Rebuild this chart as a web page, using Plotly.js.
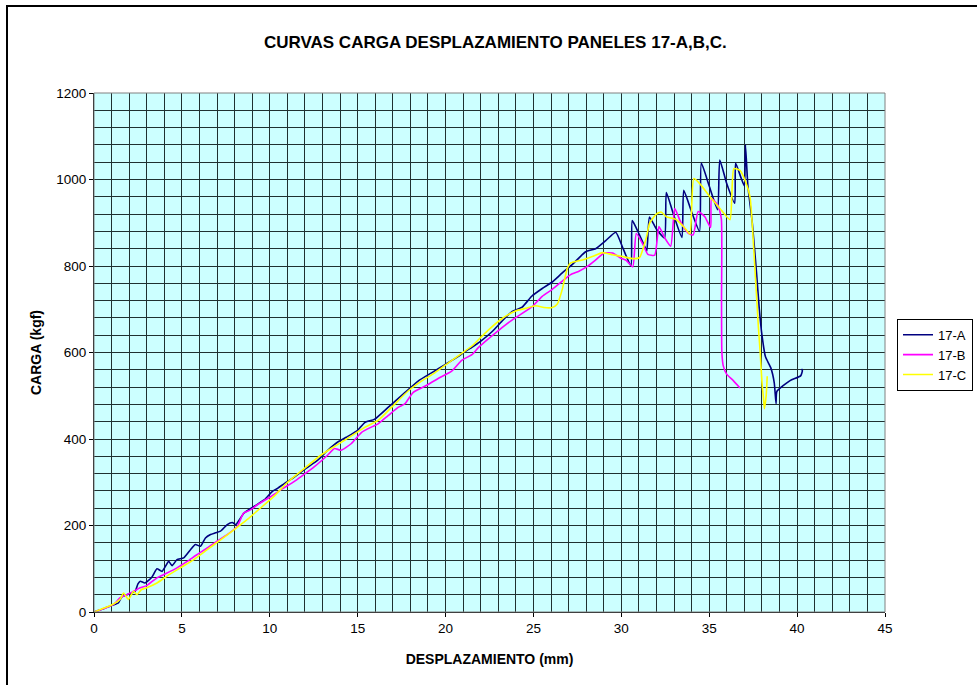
<!DOCTYPE html>
<html>
<head>
<meta charset="utf-8">
<script src="https://cdn.plot.ly/plotly-3.0.1.min.js"></script>
<style>html,body{margin:0;padding:0;background:#fff;}#chart{width:977px;height:685px;}</style>
</head>
<body>
<div id="chart"></div>
<script>
// ---- Data (desplazamiento mm, carga kgf) ----
var seriesNames = ["17-A", "17-B", "17-C"];

var xA = [0,0.5,1.0,1.39,1.58,1.87,2.34,2.5,2.63,2.9,3.3,3.58,3.87,4.25,4.44,4.72,5.1,5.49,5.77,6.06,6.34,6.63,6.91,7.2,7.58,7.87,8.06,8.54,9.1,9.68,10.15,10.44,10.83,11.4,12.06,12.73,13.3,13.87,14.35,15.0,15.4,15.97,16.73,17.2,17.68,18.44,19.2,19.97,20.73,21.1,21.5,21.97,22.64,23.2,23.79,24.36,24.9,25.5,26.07,26.64,27.2,27.97,28.54,29.1,29.68,30.1,30.55,30.62,30.94,31.32,31.45,31.6,32.0,32.46,32.56,33.0,33.45,33.55,34.0,34.45,34.55,35.0,35.48,35.6,36.0,36.45,36.5,36.8,37.0,37.06,37.2,37.45,37.7,37.85,38.0,38.2,38.5,38.7,38.8,38.85,39.6,40.2,40.3,40.25];
var yA = [0,7,15,21,35,40,48,65,71,67,81,100,94,117,107,121,125,144,156,152,171,179,183,187,202,207,202,229,244,259,279,286,297,312,332,351,374,393,404,420,438,446,473,490,507,534,553,572,591,602,612,625,648,672,695,705,730,748,763,784,803,833,840,858,878,840,800,905,880,846,835,913,885,865,970,915,866,975,925,880,1038,985,930,1045,990,945,1038,1005,985,1080,985,900,780,700,640,590,565,530,482,510,535,546,558,562];

var xB = [0,0.5,1.1,1.49,1.87,2.25,2.63,3.0,3.58,4.15,4.72,5.3,5.87,6.44,7.0,7.58,8.15,8.5,8.9,9.3,10.06,10.64,11.4,11.78,12.54,13.3,13.68,14.06,14.63,15.21,15.8,16.16,16.73,17.3,17.68,18.16,18.82,19.58,20.35,20.92,21.5,21.88,22.83,23.78,24.93,25.5,26.07,26.64,27.12,27.59,28.07,28.54,29.02,29.5,29.97,30.27,30.65,30.85,31.23,31.51,31.9,32.14,32.47,32.81,33.04,33.36,33.8,34.09,34.37,34.75,35.08,35.13,35.5,35.69,35.7,35.72,35.8,35.99,36.37,36.75];
var yB = [0,7,17,33,40,48,56,61,79,90,102,117,133,148,164,179,198,228,236,248,267,283,302,313,336,363,378,374,389,415,428,435,454,473,481,508,522,540,557,582,595,612,645,675,706,730,746,765,780,788,799,814,830,830,818,813,798,875,850,827,825,891,865,846,933,903,876,872,926,914,889,956,940,909,722,600,569,550,535,518];

var xC = [0,0.5,1.0,1.5,1.68,1.96,2.25,2.44,2.7,3.0,3.58,4.15,4.91,5.68,6.44,7.2,7.96,8.72,9.49,10.25,11.01,11.97,12.92,13.49,14.25,15.4,16.16,16.92,17.87,18.63,19.39,20.16,20.92,21.5,22.25,23.2,23.98,24.55,25.12,25.6,26.07,26.36,26.64,26.93,27.12,27.79,28.35,28.93,29.5,30.07,30.66,31.04,31.42,31.61,31.99,32.26,32.56,33.13,33.61,33.9,34.12,34.47,35.04,35.61,36.18,36.4,36.75,37.04,37.32,37.6,37.8,37.9,38.0,38.09,38.14,38.24,38.3];
var yC = [0,8,16,30,44,29,48,40,52,56,67,83,102,121,144,167,190,214,241,268,300,332,363,378,397,427,443,473,511,534,553,576,598,615,645,678,696,702,708,704,704,712,746,795,807,814,822,831,826,822,817,820,865,899,920,925,914,907,888,874,1002,990,960,933,907,1025,1021,998,960,794,657,600,531,493,470,500,545];

var seriesColors = ["#000080", "#FF00FF", "#FFFF00"];

var xTickVals = [0,5,10,15,20,25,30,35,40,45];
var yTickVals = [0,200,400,600,800,1000,1200];

var FONT = "Liberation Sans, Arial, Helvetica, sans-serif";

var xs = [xA, xB, xC], ys = [yA, yB, yC];
var traces = seriesNames.map(function(n, i){
  return {
    type: "scatter", mode: "lines", name: n,
    x: xs[i], y: ys[i],
    line: {color: seriesColors[i], width: 1.6, shape: "spline", smoothing: 0.5}
  };
});

var gridCol = "#1f3030";
var layout = {
  width: 977, height: 685,
  margin: {l: 94, r: 92, t: 93, b: 72.5, autoexpand: false},
  paper_bgcolor: "#ffffff",
  plot_bgcolor: "#CCFFFF",
  font: {family: FONT, size: 13, color: "#000"},
  title: {
    text: "<b>CURVAS CARGA DESPLAZAMIENTO PANELES 17-A,B,C.</b>",
    font: {family: FONT, size: 17, color: "#000"},
    xref: "container", x: 0.507, xanchor: "center",
    yref: "container", y: 0.939, yanchor: "middle"
  },
  xaxis: {
    range: [0, 45], tickvals: xTickVals, ticktext: xTickVals.map(String),
    showgrid: true, gridcolor: gridCol, gridwidth: 1,
    minor: {dtick: 1, showgrid: true, gridcolor: gridCol, gridwidth: 1},
    showline: true, linecolor: "#000", linewidth: 1, mirror: false,
    ticks: "outside", ticklen: 4, tickcolor: "#000",
    zeroline: false, fixedrange: true,
    tickfont: {family: FONT, size: 13.5, color: "#000"},
    title: {text: "<b>DESPLAZAMIENTO (mm)</b>", font: {family: FONT, size: 14, color: "#000"}, standoff: 18}
  },
  yaxis: {
    range: [0, 1200], tickvals: yTickVals, ticktext: yTickVals.map(String),
    showgrid: true, gridcolor: gridCol, gridwidth: 1,
    minor: {dtick: 40, showgrid: true, gridcolor: gridCol, gridwidth: 1},
    showline: true, linecolor: "#000", linewidth: 1, mirror: false,
    ticks: "outside", ticklen: 4, tickcolor: "#000",
    zeroline: false, fixedrange: true,
    tickfont: {family: FONT, size: 13.5, color: "#000"},
    title: {text: "<b>CARGA (kgf)</b>", font: {family: FONT, size: 14, color: "#000"}, standoff: 11}
  },
  legend: {
    x: (897 - 94) / 791, xanchor: "left", y: 0.565, yanchor: "top",
    bgcolor: "#fff", bordercolor: "#000", borderwidth: 1,
    font: {family: FONT, size: 13, color: "#000"},
    tracegroupgap: 0
  },
  shapes: [
    {type: "rect", xref: "paper", yref: "paper", x0: 0, x1: 1, y0: 0, y1: 1,
     line: {color: "#808080", width: 1}, fillcolor: "rgba(0,0,0,0)", layer: "above"},
    {type: "rect", xref: "paper", yref: "paper",
     x0: (7 - 94) / 791, x1: (990 - 94) / 791,
     y0: (612.5 - 700) / 519.5, y1: (612.5 - 6) / 519.5,
     line: {color: "#000", width: 2}, fillcolor: "rgba(0,0,0,0)"}
  ],
  showlegend: true
};

Plotly.newPlot("chart", traces, layout, {displayModeBar: false, staticPlot: true});
</script>
</body>
</html>
